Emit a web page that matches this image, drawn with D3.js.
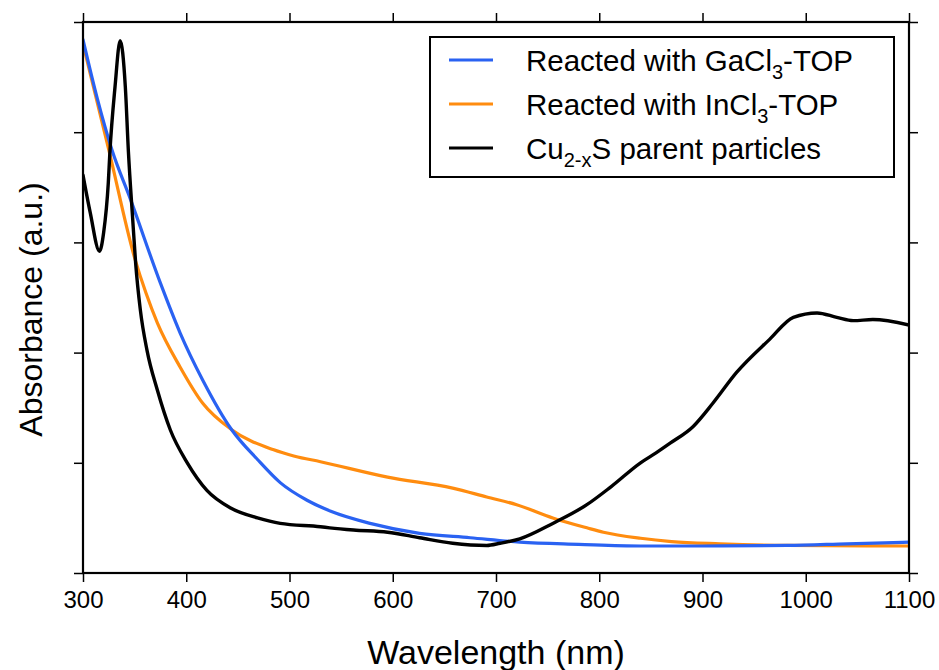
<!DOCTYPE html>
<html>
<head>
<meta charset="utf-8">
<script src="https://cdn.jsdelivr.net/npm/d3@7"></script>
<style>
  html, body { margin: 0; padding: 0; background: #fff; }
  svg { display: block; font-family: "Liberation Sans", Arial, Helvetica, sans-serif; }
</style>
</head>
<body>
<svg id="chart" width="939" height="670"></svg>
<script>
// ---- data ----
const xTicks = [300, 400, 500, 600, 700, 800, 900, 1000, 1100];
const yTicks = [0, 1, 2, 3, 4, 5];

const gaWavelength = [300, 314, 328, 346, 375, 394, 416, 444, 469, 491, 517, 540, 578, 626, 675, 723, 780, 840, 900, 982, 1040, 1100];
const gaAbs        = [4.84, 4.30, 3.84, 3.39, 2.63, 2.18, 1.75, 1.30, 1.03, 0.82, 0.66, 0.56, 0.45, 0.36, 0.32, 0.28, 0.26, 0.245, 0.245, 0.25, 0.265, 0.28];

const inWavelength = [300, 325, 350, 361, 372, 394, 416, 444, 484, 505, 530, 595, 658, 691, 720, 755, 788, 804, 840, 870, 917, 982, 1100];
const inAbs        = [4.80, 3.84, 2.86, 2.54, 2.27, 1.87, 1.54, 1.30, 1.12, 1.06, 1.01, 0.87, 0.77, 0.69, 0.62, 0.50, 0.41, 0.37, 0.315, 0.285, 0.265, 0.25, 0.245];

const cuWavelength = [300, 307, 316, 320, 324.5, 326, 331, 336, 341, 344, 348, 351, 355.5, 362, 372, 384.5, 401, 420, 443, 469, 491, 530, 539, 562, 595, 626, 658, 691, 704, 723, 755, 788, 811, 840, 855, 869, 891, 910, 933, 965, 988, 1011, 1030, 1046, 1065, 1100];
const cuAbs        = [3.61, 3.27, 2.92, 3.09, 3.54, 3.81, 4.41, 4.83, 4.41, 3.82, 3.23, 2.81, 2.39, 2.02, 1.66, 1.30, 1.00, 0.75, 0.59, 0.50, 0.45, 0.42, 0.41, 0.39, 0.37, 0.32, 0.27, 0.25, 0.27, 0.31, 0.45, 0.62, 0.78, 1.00, 1.09, 1.18, 1.33, 1.54, 1.82, 2.12, 2.32, 2.36, 2.32, 2.29, 2.30, 2.25];

const seriesNames = ["Reacted with GaCl", "Reacted with InCl", "Cu"];
const seriesColors = ["#2a62f2", "#ff8c0f", "#000000"];

// ---- layout ----
const svg = d3.select("#chart");
const mLeft = 83, mRight = 909, mTop = 22, mBottom = 573;

const x = d3.scaleLinear().domain([300, 1100]).range([mLeft, mRight]);
const y = d3.scaleLinear().domain([0, 5]).range([mBottom, mTop]);

const line = d3.line().x(d => x(d[0])).y(d => y(d[1])).curve(d3.curveMonotoneX);

const zip = (a, b) => a.map((v, i) => [v, b[i]]);
const series = [
  {name: "ga", data: zip(gaWavelength, gaAbs), color: seriesColors[0], w: 3.2},
  {name: "in", data: zip(inWavelength, inAbs), color: seriesColors[1], w: 3.2},
  {name: "cu", data: zip(cuWavelength, cuAbs), color: seriesColors[2], w: 3.4}
];

svg.append("defs").append("clipPath").attr("id", "clip")
  .append("rect").attr("x", mLeft).attr("y", mTop).attr("width", mRight - mLeft).attr("height", mBottom - mTop);

const plot = svg.append("g").attr("clip-path", "url(#clip)");
[series[1], series[0], series[2]].forEach(s => {
  plot.append("path").datum(s.data)
    .attr("fill", "none").attr("stroke", s.color).attr("stroke-width", s.w)
    .attr("stroke-linejoin", "round").attr("stroke-linecap", "round")
    .attr("d", line);
});

function styleAxis(g) {
  g.select(".domain").remove();
  g.selectAll(".tick line").attr("stroke", "#000").attr("stroke-width", 1.5);
}
svg.append("g").attr("transform", `translate(0,${mBottom})`)
  .call(d3.axisBottom(x).tickValues(xTicks).tickSize(9).tickPadding(9).tickFormat(d3.format("d")))
  .call(styleAxis)
  .call(g => g.selectAll("text").attr("font-size", 24).attr("fill", "#000").attr("font-family", "Liberation Sans, Arial, sans-serif"));
svg.append("g").attr("transform", `translate(0,${mTop})`)
  .call(d3.axisTop(x).tickValues(xTicks).tickSize(9).tickFormat(""))
  .call(styleAxis);
svg.append("g").attr("transform", `translate(${mLeft},0)`)
  .call(d3.axisLeft(y).tickValues(yTicks).tickSize(9).tickFormat(""))
  .call(styleAxis);
svg.append("g").attr("transform", `translate(${mRight},0)`)
  .call(d3.axisRight(y).tickValues(yTicks).tickSize(9).tickFormat(""))
  .call(styleAxis);

svg.append("rect").attr("x", mLeft).attr("y", mTop).attr("width", mRight - mLeft).attr("height", mBottom - mTop)
  .attr("fill", "none").attr("stroke", "#000").attr("stroke-width", 2.2);

svg.append("text").attr("x", (mLeft + mRight) / 2).attr("y", 664).attr("text-anchor", "middle")
  .attr("font-size", 34).attr("fill", "#000").text("Wavelength (nm)");
svg.append("text").attr("transform", `translate(42,${(mTop + mBottom) / 2 + 12}) rotate(-90)`)
  .attr("text-anchor", "middle").attr("font-size", 32).attr("fill", "#000").text("Absorbance (a.u.)");

const lg = svg.append("g");
lg.append("rect").attr("x", 430).attr("y", 37).attr("width", 464).attr("height", 140)
  .attr("fill", "#fff").attr("stroke", "#000").attr("stroke-width", 2);
const rowsY = [60, 104, 148];
const legendParts = [
  [seriesNames[0], "3", "-TOP"],
  [seriesNames[1], "3", "-TOP"],
  [seriesNames[2], "2-x", "S parent particles"]
];
legendParts.forEach((p, i) => {
  lg.append("line").attr("x1", 449).attr("x2", 493).attr("y1", rowsY[i]).attr("y2", rowsY[i])
    .attr("stroke", seriesColors[i]).attr("stroke-width", 3.2);
  const t = lg.append("text").attr("x", 526).attr("y", rowsY[i] + 11).attr("font-size", 29.5).attr("fill", "#000");
  t.append("tspan").text(p[0]);
  t.append("tspan").attr("dy", 8).attr("font-size", 20).text(p[1]);
  t.append("tspan").attr("dy", -8).text(p[2]);
});
</script>
</body>
</html>
